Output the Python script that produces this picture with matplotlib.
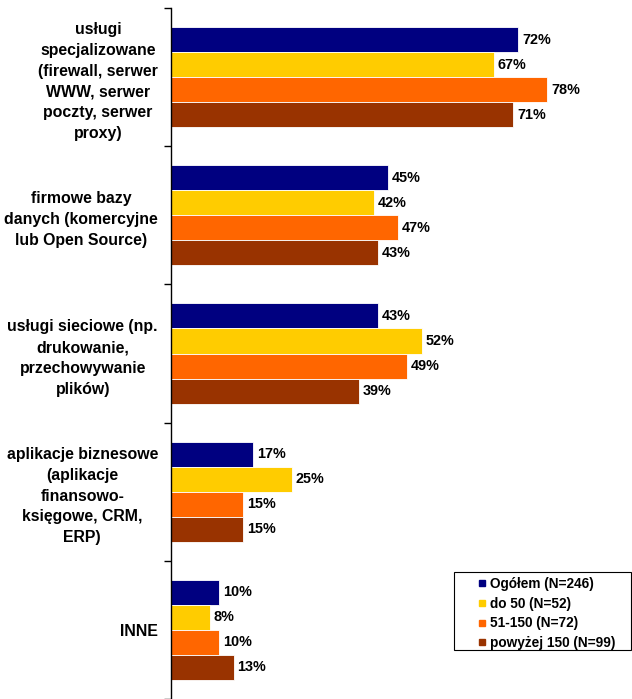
import numpy as np
import matplotlib
matplotlib.use("Agg")
import matplotlib.pyplot as plt
from matplotlib.lines import Line2D
from matplotlib.patches import Rectangle

plt.rcParams['font.family'] = ['Liberation Sans', 'DejaVu Sans']
plt.rcParams['font.weight'] = 'bold'

categories = [
    "usługi\nspecjalizowane\n(firewall, serwer\nWWW, serwer\npoczty, serwer\nproxy)",
    "firmowe bazy\ndanych (komercyjne\nlub Open Source)",
    "usługi sieciowe (np.\ndrukowanie,\nprzechowywanie\nplików)",
    "aplikacje biznesowe\n(aplikacje\nfinansowo-\nksięgowe, CRM,\nERP)",
    "INNE",
]
series_names = ["Ogółem (N=246)", "do 50 (N=52)", "51-150 (N=72)", "powyżej 150 (N=99)"]
ogolem = [72, 45, 43, 17, 10]
do50 = [67, 42, 52, 25, 8]
s51_150 = [78, 47, 49, 15, 10]
pow150 = [71, 43, 39, 15, 13]
values = [ogolem, do50, s51_150, pow150]
colors = ["#000080", "#FFCC00", "#FF6600", "#993300"]

W, H = 632, 699
fig = plt.figure(figsize=(W / 100, H / 100), dpi=100)
ax = fig.add_axes([171 / W, 0.0, 1 - 171 / W, 1 - 8 / H])

y = np.arange(len(categories))
h = 0.181
for i, (vals, col) in enumerate(zip(values, colors)):
    pos = y + (i - 1.5) * h
    ax.barh(pos, vals, height=h, color=col, edgecolor="white", linewidth=0.6)
    for p, v in zip(pos, vals):
        ax.text(v + 0.8, p, f"{v}%", va="center", ha="left", fontsize=10.4, fontweight="bold")

ax.set_xlim(0, 95.6)
ax.set_ylim(len(categories) - 0.5, -0.5)
ax.set_yticks(y)
ax.set_yticklabels(categories, fontsize=11.4, fontweight="bold", linespacing=1.48, multialignment="center")
ax.tick_params(axis="y", which="major", length=0, pad=9.4)
ax.set_yticks(np.arange(len(categories) + 1) - 0.5, minor=True)
ax.tick_params(axis="y", which="minor", length=5, width=1, direction="out")
ax.set_xticks([])
for s in ["top", "right", "bottom"]:
    ax.spines[s].set_visible(False)
ax.spines["left"].set_linewidth(1)

# legend frame drawn by hand, legend itself without frame
fig.patches.append(Rectangle((454 / W, 1 - 650 / H), (631 - 454) / W, 78 / H,
                             transform=fig.transFigure, facecolor="white",
                             edgecolor="black", linewidth=0.8, zorder=5))
handles = [Line2D([], [], marker="s", linestyle="none", markersize=5, color=c) for c in colors]
leg = fig.legend(handles, series_names, loc="upper left", bbox_to_anchor=(478 / W, 1 - 577 / H),
                 bbox_transform=fig.transFigure, borderaxespad=0, frameon=False,
                 prop={"size": 9.8, "weight": "bold"}, handlelength=0.6,
                 handletextpad=0.3, labelspacing=0.42, borderpad=0)
leg.set_zorder(6)

fig.savefig("out.png", dpi=100)
